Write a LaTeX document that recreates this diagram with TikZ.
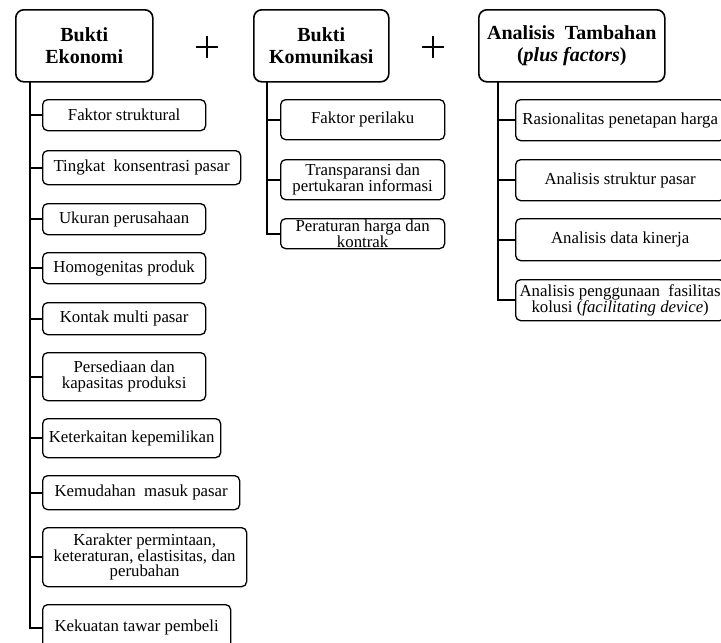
\documentclass[tikz,border=0pt]{standalone}
\usepackage{fontspec}
\setmainfont{Liberation Serif}
\begin{document}
\begin{tikzpicture}[x=1pt,y=-1pt,
  head/.style={draw=black,line width=1.6pt,rounded corners=8pt,anchor=north west,inner sep=0pt,align=center,font=\fontsize{20}{21.5}\selectfont\bfseries},
  item/.style={draw=black,line width=1.3pt,rounded corners=5pt,anchor=north west,inner sep=0pt,align=center,font=\fontsize{16.8}{15.5}\selectfont},
  trunk/.style={draw=black,line width=1.8pt},
  plusline/.style={draw=black,line width=1.5pt}]
\path[use as bounding box] (0,0) rectangle (721,643);
\clip (0,0) rectangle (721,643);
% headers
\node[head,minimum width=137pt,minimum height=72pt] (E) at (15,9) {Bukti\\Ekonomi};
\node[head,minimum width=135pt,minimum height=72pt] (K) at (253,9) {Bukti\\Komunikasi};
\node[head,minimum width=186pt,minimum height=72pt] (A) at (478,9) {Analisis\ \ Tambahan\\(\textit{plus factors})};
% plus signs
\coordinate (p1) at (207,47);
\coordinate (p2) at (433,47);
\draw[plusline] ([xshift=-11pt]p1) -- ([xshift=11pt]p1) ([yshift=-11pt]p1) -- ([yshift=11pt]p1);
\draw[plusline] ([xshift=-11pt]p2) -- ([xshift=11pt]p2) ([yshift=-11pt]p2) -- ([yshift=11pt]p2);
% Ekonomi children
\node[item,minimum width=163pt,minimum height=31pt] (e1) at (42,99) {Faktor struktural};
\node[item,minimum width=198pt,minimum height=34pt] (e2) at (42,150) {Tingkat\ \ konsentrasi pasar};
\node[item,minimum width=163pt,minimum height=31pt] (e3) at (42,203) {Ukuran perusahaan};
\node[item,minimum width=163pt,minimum height=31pt] (e4) at (42,252) {Homogenitas produk};
\node[item,minimum width=163pt,minimum height=32pt] (e5) at (42,302) {Kontak multi pasar};
\node[item,minimum width=163pt,minimum height=48pt] (e6) at (42,352) {Persediaan dan\\kapasitas produksi};
\node[item,minimum width=178pt,minimum height=39pt] (e7) at (42,418) {Keterkaitan kepemilikan};
\node[item,minimum width=197pt,minimum height=34pt] (e8) at (42,475) {Kemudahan\ \ masuk pasar};
\node[item,minimum width=204pt,minimum height=59pt] (e9) at (42,527) {Karakter permintaan,\\keteraturan, elastisitas, dan\\perubahan};
\node[item,minimum width=188pt,minimum height=46pt] (e10) at (42,604) {Kekuatan tawar pembeli};
% Komunikasi children
\node[item,minimum width=164pt,minimum height=40pt] (k1) at (280,99) {Faktor perilaku};
\node[item,minimum width=164pt,minimum height=40pt] (k2) at (280,159) {Transparansi dan\\pertukaran informasi};
\node[item,minimum width=164pt,minimum height=30pt] (k3) at (280,218) {Peraturan harga dan\\kontrak};
% Analisis children
\node[item,minimum width=209pt,minimum height=41pt] (a1) at (515,99) {Rasionalitas penetapan harga};
\node[item,minimum width=209pt,minimum height=41pt] (a2) at (515,159) {Analisis struktur pasar};
\node[item,minimum width=209pt,minimum height=42pt] (a3) at (515,218) {Analisis data kinerja};
\node[item,minimum width=209pt,minimum height=41pt] (a4) at (515,279) {Analisis penggunaan\ \ fasilitas\\kolusi (\textit{facilitating device})};
% trunks
\coordinate (Et) at (30,81);
\coordinate (Kt) at (267,81);
\coordinate (At) at (498,81);
\draw[trunk] (Et) |- (e10.west);
\foreach \n in {e1,e2,e3,e4,e5,e6,e7,e8,e9}{\draw[trunk] (Et |- \n.west) -- (\n.west);}
\draw[trunk] (Kt) |- (k3.west);
\foreach \n in {k1,k2}{\draw[trunk] (Kt |- \n.west) -- (\n.west);}
\draw[trunk] (At) |- (a4.west);
\foreach \n in {a1,a2,a3}{\draw[trunk] (At |- \n.west) -- (\n.west);}
\end{tikzpicture}
\end{document}
